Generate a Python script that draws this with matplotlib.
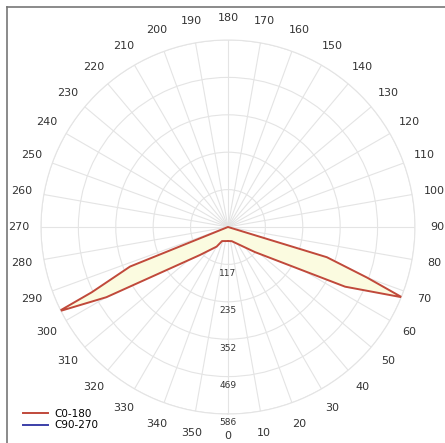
import numpy as np
import matplotlib
matplotlib.use('Agg')
import matplotlib.pyplot as plt
from matplotlib.lines import Line2D

# Dados (ângulo gamma em graus, intensidade em cd)
gamma_c0 = [0, 15, 47, 63, 68, 70, 73, 80, 280, 292, 295.6, 296.5, 300, 315, 330, 337, 360]
int_c0 = [44, 46, 115, 412, 588, 464, 324, 0, 0, 331, 473, 594, 440, 124, 71, 48, 44]

r_max = 586
r_ticks = [117, 235, 352, 469, 586]
theta_ticks = list(range(0, 360, 10))

cor_c0 = '#c0493b'
cor_c90 = '#3b3fa8'
cor_fill = '#fbfbe0'
cor_grid = '#e4e4e4'

fig = plt.figure(figsize=(4.45, 4.43), dpi=100)
fig.patch.set_facecolor('white')
ax = fig.add_axes([0.0921, 0.0655, 0.8404, 0.8442], projection='polar')
ax.set_theta_zero_location('S')
ax.set_theta_direction(1)
ax.set_facecolor('white')

th = np.deg2rad(gamma_c0)
ax.fill(th, int_c0, color=cor_fill, zorder=2)
ax.plot(th, int_c0, color=cor_c0, lw=1.4, label='C0-180', zorder=3)
ax.plot([], [], color=cor_c90, lw=1.4, label='C90-270')

ax.set_ylim(0, r_max)
ax.set_yticks([r_max * (i + 1) / 5 for i in range(5)])
ax.set_yticklabels([])
ax.set_thetagrids(theta_ticks, [str(t) for t in theta_ticks], fontsize=8, color='#333333')
ax.tick_params(axis='x', pad=5.5)
ax.grid(True, color=cor_grid, lw=0.8)
ax.spines['polar'].set_color(cor_grid)
ax.spines['polar'].set_linewidth(0.8)

# rótulos radiais logo abaixo de cada anel
for i, lab in enumerate(r_ticks):
    r = r_max * (i + 1) / 5
    ax.annotate(str(lab), xy=(0, r), xytext=(0, -9), textcoords='offset pixels',
                ha='center', va='center', fontsize=6.5, color='#333333',
                annotation_clip=False, zorder=4)

fig.legend(loc='lower left', bbox_to_anchor=(0.04, 0.017), frameon=False,
           fontsize=7.5, handlelength=2.4, handletextpad=0.6, labelspacing=0.12,
           borderpad=0)

# borda (apenas esquerda e topo visíveis)
fig.add_artist(Line2D([7 / 445, 7 / 445], [0, 1 - 7 / 443], color='#777777', lw=1.2))
fig.add_artist(Line2D([7 / 445, 1], [1 - 7 / 443, 1 - 7 / 443], color='#777777', lw=1.2))

fig.savefig('out.png', dpi=100)
